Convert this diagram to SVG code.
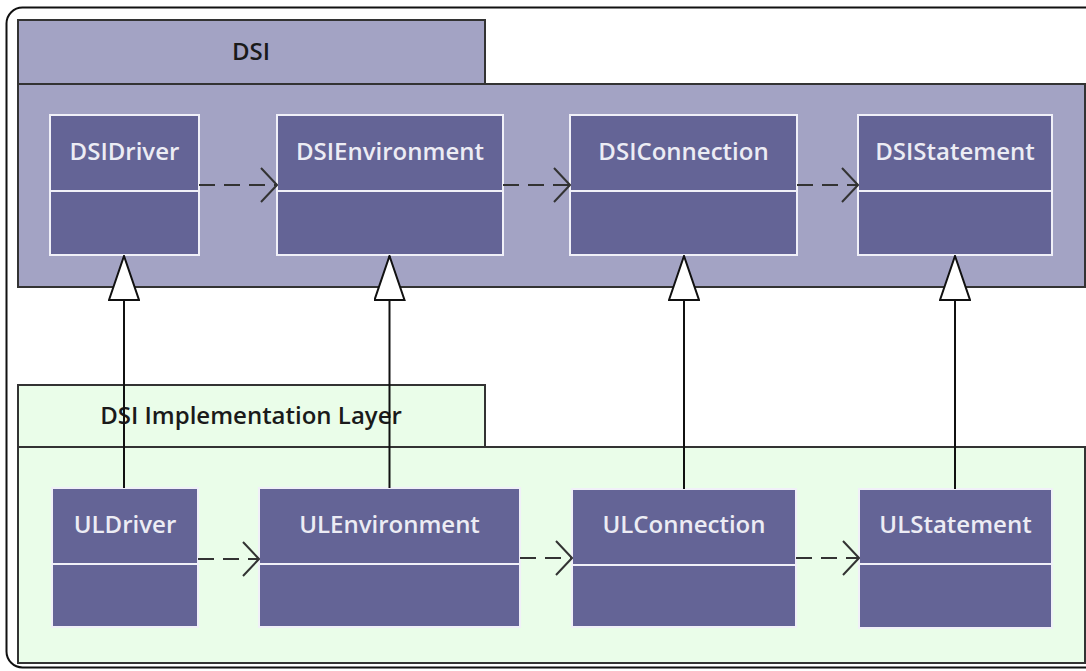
<svg xmlns="http://www.w3.org/2000/svg" width="1086" height="671" viewBox="0 0 1086 671">
<defs>
<style>
.pkgA{fill:#a3a3c4;stroke:#333;stroke-width:2}
.pkgB{fill:#eafde9;stroke:#333;stroke-width:2}
.cls{fill:#646496;stroke:#f0f0f8;stroke-width:2}
.div{stroke:#f0f0f8;stroke-width:2}
.cname{font-family:"Open Sans","Liberation Sans",sans-serif;font-weight:600;font-size:24px;fill:#ececf4;text-anchor:middle}
.pname{font-family:"Open Sans","Liberation Sans",sans-serif;font-weight:600;font-size:24px;fill:#1a1a1a;text-anchor:middle}
.dep{stroke:#333;stroke-width:2;fill:none;stroke-dasharray:16 9}
.gen{stroke:#111;stroke-width:2;fill:none}
</style>
<marker id="open" viewBox="0 0 18 36" refX="17" refY="18" markerWidth="18" markerHeight="36" markerUnits="userSpaceOnUse" orient="auto">
<path d="M1,1 L17,18 L1,35" fill="none" stroke="#333" stroke-width="2"/>
</marker>
<marker id="tri" viewBox="0 0 46 32" refX="45" refY="16" markerWidth="46" markerHeight="32" markerUnits="userSpaceOnUse" orient="auto">
<path d="M1,1 L45,16 L1,31 Z" fill="#fff" stroke="#111" stroke-width="2"/>
</marker>
</defs>
<rect x="6.5" y="7.5" width="1100" height="660" rx="16" fill="#fff" stroke="#111" stroke-width="2"/>
<g id="pkg-dsi">
<rect class="pkgA" x="18" y="20" width="467" height="64"/>
<rect class="pkgA" x="18" y="84" width="1067" height="203"/>
<text class="pname" x="251" y="60">DSI</text>
</g>
<g id="pkg-impl">
<rect class="pkgB" x="18" y="385" width="467" height="62"/>
<rect class="pkgB" x="18" y="447" width="1067" height="216"/>
<text class="pname" x="251" y="424">DSI Implementation Layer</text>
</g>
<g id="DSIDriver"><rect class="cls" x="50" y="115" width="149" height="140"/><line class="div" x1="50" y1="191" x2="199" y2="191"/><text class="cname" x="124.5" y="160">DSIDriver</text></g>
<g id="DSIEnvironment"><rect class="cls" x="277" y="115" width="226" height="140"/><line class="div" x1="277" y1="191" x2="503" y2="191"/><text class="cname" x="390" y="160">DSIEnvironment</text></g>
<g id="DSIConnection"><rect class="cls" x="570" y="115" width="227" height="140"/><line class="div" x1="570" y1="191" x2="797" y2="191"/><text class="cname" x="683.5" y="160">DSIConnection</text></g>
<g id="DSIStatement"><rect class="cls" x="858" y="115" width="194" height="140"/><line class="div" x1="858" y1="191" x2="1052" y2="191"/><text class="cname" x="955" y="160">DSIStatement</text></g>
<g id="ULDriver"><rect class="cls" x="52" y="488" width="146" height="139" stroke="none"/><line class="div" x1="52" y1="564" x2="198" y2="564"/><text class="cname" x="125" y="533">ULDriver</text></g>
<g id="ULEnvironment"><rect class="cls" x="259" y="488" width="261" height="139" stroke="none"/><line class="div" x1="259" y1="564" x2="520" y2="564"/><text class="cname" x="389.5" y="533">ULEnvironment</text></g>
<g id="ULConnection"><rect class="cls" x="572" y="489" width="224" height="138" stroke="none"/><line class="div" x1="572" y1="565" x2="796" y2="565"/><text class="cname" x="684" y="533">ULConnection</text></g>
<g id="ULStatement"><rect class="cls" x="859" y="489" width="193" height="139" stroke="none"/><line class="div" x1="859" y1="564" x2="1052" y2="564"/><text class="cname" x="955.5" y="533">ULStatement</text></g>
<g id="connectors">
<line class="dep" x1="199" y1="185" x2="277" y2="185" marker-end="url(#open)"/>
<line class="dep" x1="503" y1="185" x2="570" y2="185" marker-end="url(#open)"/>
<line class="dep" x1="797" y1="185" x2="858" y2="185" marker-end="url(#open)"/>
<line class="dep" x1="198" y1="559" x2="259" y2="559" marker-end="url(#open)"/>
<line class="dep" x1="520" y1="558" x2="572" y2="558" marker-end="url(#open)"/>
<line class="dep" x1="796" y1="558" x2="859" y2="558" marker-end="url(#open)"/>
<line class="gen" x1="124" y1="488" x2="124" y2="256" marker-end="url(#tri)"/>
<line class="gen" x1="389.5" y1="488" x2="389.5" y2="256" marker-end="url(#tri)"/>
<line class="gen" x1="684" y1="489" x2="684" y2="256" marker-end="url(#tri)"/>
<line class="gen" x1="955" y1="489" x2="955" y2="256" marker-end="url(#tri)"/>
</g>
</svg>
